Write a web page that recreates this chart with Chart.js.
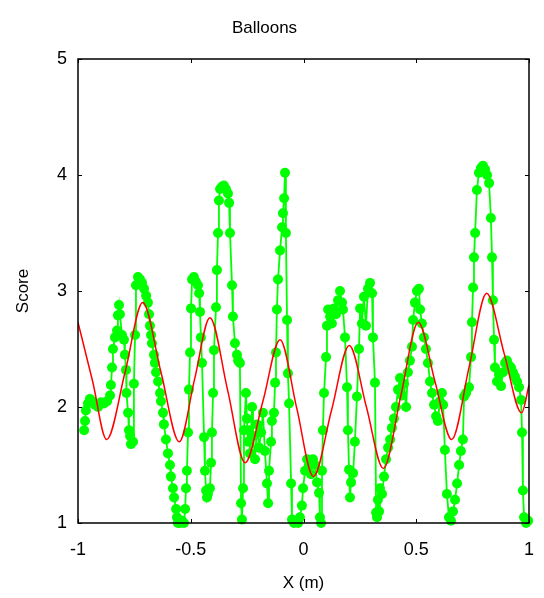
<!DOCTYPE html>
<html>
<head>
<meta charset="utf-8">
<script src="https://cdn.jsdelivr.net/npm/chart.js@4/dist/chart.umd.min.js"></script>
<style>
  html, body { margin:0; padding:0; background:#fff; }
  #wrap { width:544px; height:598px; }
</style>
</head>
<body>
<div id="wrap"><canvas id="chart" width="544" height="598"></canvas></div>
<script>
// ── DATA ──
// measured balloon scores along X (m)
const scoreX = [
  -0.973,-0.969,-0.965,-0.956,-0.947,-0.938,-0.925,-0.911,-0.898,-0.885,-0.871,-0.858,-0.854,-0.849,-0.845,-0.836,
  -0.827,-0.823,-0.818,-0.814,-0.805,-0.796,-0.792,-0.787,-0.785,-0.778,-0.774,-0.769,-0.765,-0.756,-0.752,-0.747,
  -0.743,-0.734,-0.725,-0.716,-0.707,-0.698,-0.690,-0.685,-0.681,-0.676,-0.672,-0.663,-0.659,-0.654,-0.645,-0.636,
  -0.632,-0.623,-0.619,-0.610,-0.601,-0.592,-0.588,-0.579,-0.574,-0.565,-0.561,-0.557,-0.548,-0.539,-0.530,-0.525,
  -0.521,-0.517,-0.512,-0.508,-0.503,-0.499,-0.494,-0.486,-0.477,-0.468,-0.463,-0.459,-0.455,-0.450,-0.441,-0.437,
  -0.432,-0.428,-0.424,-0.415,-0.410,-0.406,-0.401,-0.397,-0.388,-0.384,-0.379,-0.375,-0.370,-0.361,-0.353,-0.344,
  -0.335,-0.330,-0.326,-0.317,-0.313,-0.304,-0.295,-0.290,-0.282,-0.277,-0.273,-0.268,-0.264,-0.255,-0.251,-0.246,
  -0.242,-0.237,-0.228,-0.224,-0.215,-0.206,-0.197,-0.188,-0.180,-0.171,-0.162,-0.157,-0.153,-0.144,-0.140,-0.131,
  -0.126,-0.122,-0.118,-0.113,-0.104,-0.095,-0.091,-0.086,-0.082,-0.078,-0.073,-0.069,-0.064,-0.055,-0.051,-0.042,
  -0.033,-0.024,-0.016,-0.007,-0.002,0.007,0.016,0.024,0.033,0.042,0.051,0.060,0.069,0.073,0.078,0.082,
  0.086,0.091,0.100,0.104,0.109,0.118,0.126,0.135,0.144,0.153,0.162,0.171,0.175,0.184,0.193,0.197,
  0.202,0.206,0.211,0.220,0.228,0.237,0.246,0.251,0.259,0.268,0.277,0.286,0.295,0.304,0.308,0.317,
  0.322,0.326,0.330,0.335,0.339,0.348,0.357,0.366,0.375,0.384,0.392,0.401,0.410,0.419,0.428,0.437,
  0.446,0.455,0.463,0.472,0.481,0.486,0.494,0.503,0.512,0.517,0.525,0.534,0.543,0.552,0.561,0.570,
  0.579,0.588,0.596,0.605,0.614,0.619,0.627,0.636,0.645,0.654,0.663,0.672,0.681,0.690,0.698,0.707,
  0.712,0.721,0.734,0.743,0.747,0.752,0.756,0.761,0.769,0.778,0.787,0.796,0.805,0.814,0.823,0.831,
  0.836,0.840,0.845,0.849,0.858,0.867,0.876,0.885,0.894,0.902,0.911,0.920,0.929,0.938,0.947,0.956,
  0.965,0.969,0.973,0.978,0.987,0.996
];
const scoreY = [
  1.80,1.88,1.97,2.03,2.07,2.05,2.02,2.00,2.04,2.03,2.05,2.10,2.19,2.34,2.50,2.60,
  2.66,2.79,2.88,2.80,2.62,2.58,2.45,2.32,2.12,1.95,1.80,1.75,1.68,1.70,2.20,2.62,
  3.05,3.12,3.10,3.07,3.02,2.96,2.90,2.80,2.70,2.62,2.55,2.45,2.38,2.30,2.22,2.12,
  2.05,1.95,1.85,1.72,1.60,1.50,1.40,1.30,1.22,1.12,1.05,1.00,1.00,1.02,1.00,1.12,
  1.30,1.45,1.78,2.15,2.47,2.85,3.10,3.12,3.08,3.05,2.98,2.82,2.60,2.38,1.74,1.45,
  1.28,1.22,1.25,1.30,1.52,1.78,2.12,2.49,2.86,3.18,3.50,3.78,3.88,3.90,3.91,3.88,
  3.84,3.76,3.50,3.05,2.78,2.55,2.45,2.40,2.38,1.17,1.03,1.30,1.80,2.12,1.90,1.70,
  1.80,1.60,2.00,1.75,1.55,1.85,1.65,1.78,1.95,1.62,1.34,1.17,1.45,1.70,1.88,1.95,
  2.21,2.47,2.84,3.10,3.35,3.55,3.67,3.80,4.02,3.50,2.75,2.29,2.03,1.34,1.03,1.00,
  1.02,1.00,1.05,1.15,1.30,1.45,1.55,1.50,1.42,1.55,1.50,1.35,1.26,1.05,1.00,1.45,
  1.80,2.12,2.43,2.70,2.84,2.78,2.72,2.85,2.80,2.92,3.00,2.90,2.84,2.60,2.17,1.80,
  1.46,1.22,1.35,1.43,1.70,2.09,2.50,2.85,2.72,2.95,2.70,3.02,3.07,2.98,2.60,2.21,
  1.09,1.05,1.20,1.10,1.30,1.25,1.40,1.55,1.65,1.72,1.82,1.90,2.00,2.15,2.25,2.10,
  2.20,2.00,2.30,2.40,2.52,2.75,2.90,3.00,3.02,2.84,2.72,2.60,2.50,2.38,2.22,2.12,
  2.02,1.92,1.88,2.05,2.12,2.02,1.63,1.25,1.05,1.02,1.10,1.20,1.34,1.50,1.62,1.72,
  2.09,2.12,2.17,2.43,2.73,3.03,3.29,3.50,3.87,4.02,4.06,4.08,4.05,4.00,3.93,3.63,
  3.29,2.92,2.58,2.34,2.22,2.28,2.18,2.30,2.38,2.40,2.36,2.34,2.30,2.26,2.22,2.17,
  2.06,1.78,1.28,1.05,1.00,1.02
];

// fitted curve, read at its turning points and half-way crossings
const fitX = [-1, -0.935, -0.873, -0.79, -0.713, -0.632, -0.551, -0.483, -0.415, -0.337, -0.259,
  -0.18, -0.104, -0.03, 0.044, 0.124, 0.203, 0.279, 0.354, 0.432, 0.509, 0.583, 0.657, 0.735, 0.812, 0.89, 0.967, 1];
const fitY = [2.73, 2.22, 1.72, 2.31, 2.90, 2.30, 1.70, 2.24, 2.77, 2.15, 1.52,
  2.05, 2.58, 1.99, 1.40, 1.97, 2.53, 2.00, 1.47, 2.10, 2.73, 2.22, 1.72, 2.35, 2.98, 2.46, 1.95, 2.19];

const xTicks = [-1, -0.5, 0, 0.5, 1];
const yTicks = [1, 2, 3, 4, 5];

// ── STYLE ──
const FONT = 'Liberation Sans, Arial, sans-serif';
const GREEN = '#00ff00';
const RED = '#ff0000';

// box around the plot + short inward ticks on all four sides
const frame = {
  id: 'frame',
  afterDatasetsDraw(chart) {
    const { ctx, chartArea: a, scales: { x, y } } = chart;
    ctx.save();
    ctx.strokeStyle = '#000';
    ctx.lineWidth = 1.5;
    ctx.strokeRect(a.left, a.top, a.right - a.left, a.bottom - a.top);
    ctx.lineWidth = 1;
    ctx.beginPath();
    xTicks.forEach(v => {
      const px = Math.round(x.getPixelForValue(v)) + 0.5;
      ctx.moveTo(px, a.bottom); ctx.lineTo(px, a.bottom - 4);
      ctx.moveTo(px, a.top);    ctx.lineTo(px, a.top + 4);
    });
    yTicks.forEach(v => {
      const py = Math.round(y.getPixelForValue(v)) + 0.5;
      ctx.moveTo(a.left, py);  ctx.lineTo(a.left + 4, py);
      ctx.moveTo(a.right, py); ctx.lineTo(a.right - 4, py);
    });
    ctx.stroke();
    ctx.restore();
  }
};

new Chart(document.getElementById('chart'), {
  type: 'scatter',
  data: {
    datasets: [
      {
        label: 'Score',
        data: scoreX.map((v, i) => ({ x: v, y: scoreY[i] })),
        showLine: true,
        borderColor: GREEN,
        borderWidth: 1.8,
        backgroundColor: GREEN,
        pointBackgroundColor: GREEN,
        pointBorderColor: GREEN,
        pointRadius: 5,
        pointBorderWidth: 0,
        clip: false,
        order: 2,
      },
      {
        label: 'Fit',
        data: fitX.map((v, i) => ({ x: v, y: fitY[i] })),
        showLine: true,
        borderColor: RED,
        borderWidth: 1.5,
        pointRadius: 0,
        cubicInterpolationMode: 'monotone',
        order: 1,
      },
    ]
  },
  options: {
    responsive: false,
    animation: false,
    events: [],
    layout: { padding: { left: 0, right: 15, top: 0, bottom: 0 } },
    plugins: {
      legend: { display: false },
      tooltip: { enabled: false },
      title: {
        display: true,
        text: 'Balloons',
        color: '#000',
        font: { family: FONT, size: 17, weight: 'normal' },
        padding: { top: 18, bottom: 20.6 },
      },
    },
    scales: {
      x: {
        type: 'linear',
        min: -1, max: 1,
        afterBuildTicks: s => { s.ticks = xTicks.map(v => ({ value: v })); },
        afterFit: s => { s.height = 75; s.paddingLeft = 0; s.paddingRight = 0; },
        grid: { display: false, drawTicks: false },
        border: { display: false },
        ticks: { color: '#000', padding: 16, maxRotation: 0, font: { family: FONT, size: 18 }, callback: v => String(v) },
        title: { display: true, text: 'X (m)', color: '#000', padding: { top: 7 }, font: { family: FONT, size: 17 } },
      },
      y: {
        type: 'linear',
        min: 1, max: 5,
        afterBuildTicks: s => { s.ticks = yTicks.map(v => ({ value: v })); },
        afterFit: s => { s.width = 78; s.paddingTop = 0; s.paddingBottom = 0; },
        grid: { display: false, drawTicks: false },
        border: { display: false },
        ticks: { color: '#000', padding: 11, font: { family: FONT, size: 18 }, callback: v => String(v) },
        title: { display: true, text: 'Score', color: '#000', padding: { top: 13 }, font: { family: FONT, size: 17 } },
      },
    }
  },
  plugins: [frame]
});
</script>
</body>
</html>
